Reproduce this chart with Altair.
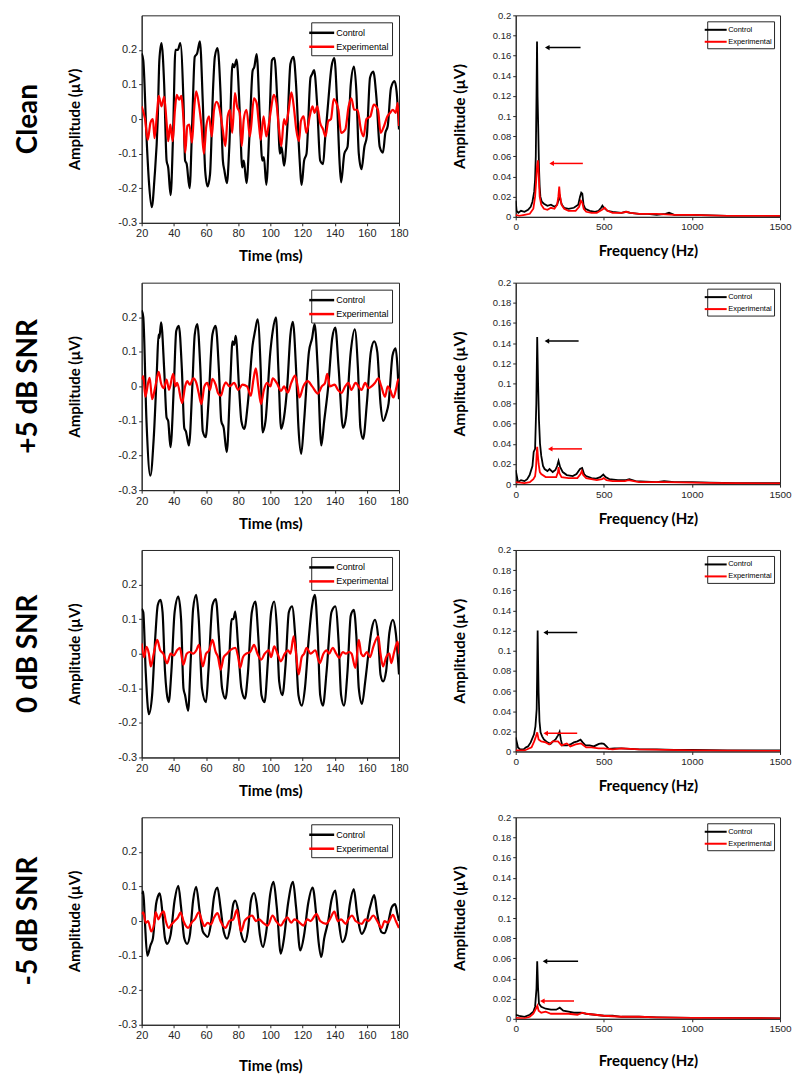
import altair as alt
import pandas as pd

ROW_LABELS = ["Clean", "+5 dB SNR", "0 dB SNR", "-5 dB SNR"]
SERIES = ["Control", "Experimental"]
COLORS = ["#000000", "#ff0000"]
TIME_TICKS = [20, 40, 60, 80, 100, 120, 140, 160, 180]
TIME_AMP_TICKS = [-0.3, -0.2, -0.1, 0, 0.1, 0.2]
FREQ_TICKS = [0, 500, 1000, 1500]
FREQ_AMP_TICKS = [0, 0.02, 0.04, 0.06, 0.08, 0.1, 0.12, 0.14, 0.16, 0.18, 0.2]

# ---------------- time-domain waveforms (ms, µV) ----------------
clean_time_control = [
    (20, 0.19), (21, 0.17), (23, -0.05), (24.5, -0.18), (26.3, -0.255), (28, -0.17), (30, 0.0), (31, 0.17),
    (32.3, 0.22), (34, 0.1), (35.5, -0.12), (36.5, -0.14), (38, -0.22), (39.5, -0.05), (41, 0.2), (42.5, 0.2),
    (44, 0.22), (46, 0.05), (47, -0.12), (48, -0.13), (49.8, -0.2), (51.5, 0.0), (53, 0.18), (54.5, 0.19),
    (56.2, 0.225), (58, 0.05), (59.5, -0.15), (61, -0.195), (62.5, -0.16), (64.5, 0.1), (65.5, 0.18), (67.2, 0.205),
    (69, 0.08), (70.5, -0.12), (71.5, -0.15), (73, -0.185), (74.5, -0.08), (76.5, 0.16), (77.5, 0.15), (79, 0.172),
    (81, 0.02), (82.5, -0.14), (83.5, -0.12), (85.2, -0.185), (87, -0.05), (89, 0.14), (90, 0.15), (91.5, 0.188),
    (93.5, 0.0), (95, -0.12), (96, -0.11), (97.5, -0.19), (99.5, 0.0), (101, 0.17), (102.5, 0.177), (104.5, 0.04),
    (106, -0.1), (107, -0.08), (108.5, -0.135), (110.5, -0.03), (112.5, 0.16), (114.4, 0.18), (116, 0.1), (118, -0.1),
    (119.5, -0.19), (121, -0.12), (122.5, -0.1), (125, 0.12), (126, 0.13), (127.2, 0.142), (129, 0.05), (131, -0.12),
    (132.8, -0.13), (134, -0.06), (136, 0.05), (138, 0.15), (139.8, 0.176), (141.5, 0.05), (143, -0.12), (144, -0.183),
    (146, -0.1), (148, -0.08), (150, 0.1), (152, 0.152), (153.5, 0.08), (155, -0.1), (156.7, -0.145), (158.5, -0.08),
    (160, -0.05), (162, 0.12), (164, 0.137), (166, 0.06), (168, -0.08), (170, -0.097), (171.5, -0.04), (173, -0.02),
    (175, 0.09), (177.2, 0.11), (178.5, 0.08), (180, -0.03),
]
clean_time_experimental = [
    (20, 0.037), (22.1, 0.0), (23.8, -0.06), (25.5, -0.01), (27, 0.0), (28, -0.055), (29.7, 0.027), (30.6, 0.067),
    (32.3, 0.037), (34, 0.064), (35.5, -0.01), (36.5, -0.064), (37.8, -0.016), (39.3, -0.064), (40.7, 0.027),
    (41.8, 0.07), (43.3, 0.056), (44.6, 0.067), (46, 0.0), (47.1, -0.097), (48.4, -0.02), (49.6, -0.016),
    (51.3, -0.068), (52.6, 0.027), (53.9, 0.08), (55.6, 0.042), (57.2, -0.02), (58.7, -0.1), (60.2, -0.02),
    (61.9, 0.008), (63.6, -0.05), (65, 0.027), (66.6, 0.05), (68.3, 0.032), (70.4, -0.03), (72, -0.078),
    (73.5, 0.008), (75, 0.027), (76.3, -0.04), (78, 0.075), (79.3, 0.037), (81, 0.018), (82.2, -0.078), (83.5, 0.0),
    (85.2, 0.027), (87.3, -0.05), (89.8, 0.06), (91.5, 0.046), (92.8, -0.01), (94, -0.06), (95.8, 0.008),
    (97.5, -0.05), (98.7, -0.025), (100.4, 0.027), (102.1, 0.07), (103.8, 0.046), (105.3, -0.025), (106.8, -0.078),
    (108.5, 0.0), (109.7, -0.016), (111.4, 0.027), (113.1, 0.077), (114.8, 0.027), (116.1, -0.03), (117.8, -0.064),
    (119, -0.006), (120.7, 0.008), (122.4, -0.04), (124.5, 0.008), (126.2, 0.037), (127.5, 0.018), (129.2, 0.037),
    (130.9, -0.01), (132.8, -0.03), (134.3, -0.05), (136, -0.006), (137.7, 0.0), (139.4, 0.058), (141.1, 0.046),
    (142.3, 0.027), (144, -0.04), (146.6, -0.03), (148.7, 0.037), (150.4, 0.06), (152.1, 0.027), (154.2, 0.027),
    (156.3, -0.03), (158, -0.05), (159.7, 0.0), (162.2, 0.008), (164.3, 0.042), (166.9, 0.027), (168.6, -0.04),
    (170.7, -0.02), (172.8, 0.008), (174.5, 0.018), (176.2, 0.027), (177.9, 0.018), (179.2, 0.046), (180, -0.02),
]
plus5_time_control = [
    (20, 0.22), (21, 0.2), (23, -0.1), (25.4, -0.258), (27.5, -0.15), (29.5, 0.05), (30.5, 0.15), (31, 0.14),
    (32.1, 0.185), (34, 0.05), (35.5, -0.09), (36.5, -0.1), (37.9, -0.176), (40, 0.0), (41.5, 0.16), (43.1, 0.175),
    (45, 0.05), (46.5, -0.12), (47.5, -0.13), (49.4, -0.171), (51.5, 0.0), (53, 0.15), (54.6, 0.18), (56.5, 0.05),
    (58, -0.13), (59.8, -0.147), (61.5, -0.05), (64, 0.15), (66, 0.175), (68, 0.05), (69.5, -0.1), (71, -0.12),
    (72.9, -0.19), (75, 0.0), (76.5, 0.13), (77.5, 0.12), (78.5, 0.146), (80.5, 0.0), (82, -0.1), (83.8, -0.123),
    (86, -0.05), (89, 0.12), (90.5, 0.16), (92.1, 0.194), (94, 0.05), (95.2, -0.133), (97, -0.1), (100, 0.1),
    (101.5, 0.16), (103.5, 0.2), (105, 0.05), (106.7, -0.123), (108.5, -0.09), (110.5, 0.0), (112.5, 0.15),
    (114, 0.187), (116, 0.05), (117.5, -0.12), (119.2, -0.195), (121, -0.1), (124, 0.1), (126, 0.14), (127.5, 0.18),
    (129.5, 0.05), (131.7, -0.171), (133.5, -0.1), (136, 0.0), (138.5, 0.14), (140.4, 0.17), (142.5, 0.05),
    (145.2, -0.12), (147, -0.09), (150, 0.1), (152.5, 0.165), (154.5, 0.05), (156, -0.12), (157.7, -0.152),
    (160, -0.05), (162.5, 0.1), (164.6, 0.13), (166.5, 0.1), (168.5, -0.05), (170.2, -0.1), (172, -0.08),
    (173.5, -0.05), (176, 0.09), (177.9, 0.11), (179, 0.06), (180, -0.037),
]
plus5_time_experimental = [
    (20, 0.02), (21, 0.03), (22.3, -0.03), (24, 0.01), (25, 0.025), (26.5, -0.037), (28.5, 0.0), (30.6, 0.042),
    (32, 0.01), (33.8, -0.005), (35.5, 0.02), (37, -0.01), (39.6, 0.036), (41, 0.0), (42.1, 0.01), (45.2, -0.048),
    (47, 0.0), (48.3, 0.015), (50, 0.005), (52.1, 0.023), (54, 0.01), (55.5, -0.02), (57.1, -0.051), (59, 0.0),
    (60.8, 0.01), (62.5, -0.01), (64, 0.022), (66, 0.005), (67.5, -0.02), (69.2, -0.027), (71, 0.0), (72.3, 0.012),
    (74.5, 0.0), (77.5, 0.01), (80, -0.01), (82.7, 0.005), (85.5, 0.0), (87.9, -0.027), (89.5, 0.02), (91, 0.052),
    (92.5, 0.0), (94.2, -0.051), (96, -0.01), (98, 0.01), (100, 0.0), (101.5, 0.023), (104, 0.01), (106.7, -0.013),
    (108.5, 0.0), (110.8, -0.018), (113, 0.01), (115.4, 0.031), (117, 0.0), (118.1, -0.032), (120.5, 0.0),
    (123.3, 0.015), (126, 0.0), (129.6, -0.021), (132, 0.0), (134, 0.01), (135.4, 0.036), (137, 0.0), (140, 0.005),
    (142, -0.01), (144.2, -0.019), (146.5, 0.0), (148.5, 0.01), (150.4, -0.01), (153, 0.01), (156.7, -0.01),
    (159, 0.01), (161, -0.005), (162.9, 0.0), (165, 0.01), (167.1, 0.023), (169, 0.0), (171.3, -0.03), (173, 0.0),
    (174.5, -0.01), (176.5, -0.032), (178.5, 0.0), (179.5, 0.02), (180, 0.02),
]
zero_time_control = [
    (20, 0.13), (21, 0.12), (22.5, -0.05), (24.5, -0.175), (26.5, -0.12), (28.5, 0.05), (30, 0.14), (31.7, 0.156),
    (33, 0.12), (34.5, -0.05), (35.5, -0.11), (36.8, -0.14), (38.5, -0.05), (40.5, 0.12), (42.8, 0.165), (44.5, 0.1),
    (46, -0.1), (47, -0.12), (48.9, -0.165), (50.5, -0.02), (52, 0.13), (53.9, 0.17), (55.5, 0.1), (57.5, -0.1),
    (60, -0.14), (61.5, -0.05), (64, 0.14), (66.1, 0.158), (68, 0.05), (70, -0.1), (72.1, -0.13), (74, -0.05),
    (76, 0.1), (77, 0.1), (78.2, 0.122), (80, 0.02), (82, -0.1), (84.2, -0.13), (86, -0.06), (88.5, 0.12),
    (90.7, 0.151), (92.5, 0.05), (94.5, -0.12), (96.4, -0.14), (98.5, -0.02), (100.5, 0.12), (102.4, 0.151),
    (104, 0.08), (105.5, -0.08), (107.5, -0.12), (109.5, -0.03), (111.5, 0.12), (113.5, 0.137), (115.5, 0.05),
    (117.5, -0.12), (119.6, -0.15), (121.5, -0.1), (124, 0.05), (126, 0.14), (127.7, 0.17), (129.5, 0.05),
    (131, -0.12), (132.7, -0.15), (135, -0.05), (138, 0.12), (140.4, 0.137), (142.5, 0.03), (144, -0.12),
    (145.8, -0.15), (148, -0.05), (150, 0.11), (151.9, 0.127), (153.5, 0.05), (155, -0.1), (157, -0.145),
    (159, -0.08), (161, 0.0), (163, 0.07), (165, 0.098), (167, 0.05), (168.5, -0.06), (170.1, -0.08), (172, -0.05),
    (174, 0.06), (176.2, 0.098), (178, 0.06), (180, -0.06),
]
zero_time_experimental = [
    (20, 0.03), (21.5, -0.01), (23, 0.02), (24.5, 0.0), (25.7, -0.037), (27.5, 0.0), (29.7, 0.04), (31.5, 0.01),
    (33.5, 0.0), (35.8, -0.028), (38, 0.0), (40, -0.005), (42, 0.01), (43.8, 0.017), (45.9, -0.032), (48, 0.0),
    (50, 0.005), (52, 0.0), (54, 0.01), (55.6, 0.026), (58, -0.037), (60, 0.0), (62, 0.01), (64, 0.04), (66, 0.005),
    (67.5, -0.01), (69.1, -0.046), (71, -0.01), (73, 0.0), (75, 0.01), (78.2, 0.017), (80, -0.01), (81.2, -0.041),
    (83, -0.01), (85, 0.0), (87.5, 0.005), (89.9, 0.026), (92, 0.0), (94.3, -0.017), (96.5, 0.0), (99, 0.01),
    (100.5, -0.01), (102.4, 0.021), (104.5, 0.0), (106.5, -0.022), (109, 0.0), (111, 0.01), (112.5, 0.0),
    (114.5, 0.05), (116, 0.0), (117.6, -0.06), (119.5, -0.01), (121, 0.0), (122.6, 0.017), (125, 0.0), (128, 0.01),
    (130.7, -0.027), (133, 0.0), (135, 0.01), (136.5, 0.0), (138.8, 0.017), (141, 0.0), (142.8, -0.012),
    (145, 0.005), (147, 0.0), (149, 0.005), (150.5, 0.0), (152.9, -0.041), (155, 0.04), (156.5, 0.0), (158, -0.007),
    (160, 0.005), (162, -0.01), (164, 0.02), (167.1, 0.05), (168.5, 0.0), (170.1, -0.037), (172, -0.01), (174, 0.0),
    (175.2, -0.027), (177, 0.005), (179.2, 0.035), (180, 0.0),
]
minus5_time_control = [
    (20, 0.078), (21, 0.085), (22, 0.0), (23.5, -0.1), (25.5, -0.07), (27, -0.05), (29, 0.05), (30, 0.07),
    (31.3, 0.08), (33, 0.02), (34.5, -0.05), (35.8, -0.066), (38, -0.04), (40.5, 0.06), (42.8, 0.102), (44.5, 0.04),
    (46.5, -0.05), (48.3, -0.066), (50, -0.04), (52, 0.06), (53.9, 0.099), (56, 0.03), (58, -0.03), (59.5, -0.04),
    (61, -0.046), (63, -0.01), (65, 0.07), (67.1, 0.097), (69, 0.04), (71, -0.03), (73.1, -0.051), (75, -0.02),
    (77, 0.05), (78.2, 0.059), (80, 0.03), (82, -0.04), (84.2, -0.061), (86, -0.03), (88, 0.06), (89.9, 0.081),
    (91.5, 0.05), (93.5, -0.04), (95.4, -0.075), (97.5, -0.03), (100, 0.08), (102, 0.113), (104, 0.04),
    (106.5, -0.094), (108.5, -0.05), (111, 0.05), (114.1, 0.113), (116, 0.04), (118.6, -0.085), (121, -0.04),
    (123.5, 0.05), (126.3, 0.097), (128.5, 0.02), (130, -0.06), (131.7, -0.104), (133.5, -0.05), (136, 0.0),
    (138, 0.06), (140.4, 0.088), (142.5, 0.0), (144.8, -0.061), (147, -0.04), (149.5, 0.05), (151.9, 0.092),
    (154, 0.02), (156.9, -0.037), (159, -0.02), (162, 0.04), (164.6, 0.075), (166.5, 0.02), (169.1, -0.032),
    (171, -0.035), (173, -0.01), (175.5, 0.04), (177.6, 0.049), (179, 0.02), (180, 0.0),
]
minus5_time_experimental = [
    (20, 0.02), (21, 0.025), (22.5, -0.005), (24, 0.0), (26, -0.03), (28, 0.0), (28.7, 0.025), (30.5, 0.005),
    (32, 0.02), (33.7, 0.028), (35, 0.0), (36.8, -0.02), (38.5, -0.01), (40.5, 0.0), (42.5, 0.01), (44.2, 0.025),
    (46, 0.0), (48.9, -0.02), (51, -0.005), (53, 0.005), (55.6, 0.025), (57.5, 0.0), (59, -0.015), (61, -0.005),
    (63, -0.01), (65, 0.01), (67.1, 0.023), (69, 0.0), (72.1, -0.02), (74.5, 0.0), (77, 0.005), (79.2, 0.032),
    (80.5, 0.0), (81.8, -0.03), (84, 0.0), (86, 0.01), (88.7, 0.016), (91, 0.0), (93, 0.005), (95.5, -0.005),
    (98.4, -0.013), (101.4, 0.016), (103.5, 0.0), (106.5, -0.013), (108.5, 0.0), (110.5, 0.011), (113, -0.005),
    (115, 0.005), (117, 0.0), (120.6, -0.013), (123, 0.005), (125, 0.0), (128.7, 0.02), (131, 0.0), (134.7, -0.008),
    (137, 0.005), (139.8, 0.027), (142, 0.0), (144, 0.005), (146.9, -0.008), (148.5, 0.005), (150.9, 0.016),
    (153, 0.0), (157, -0.008), (159, 0.005), (161, 0.0), (164, 0.016), (166.5, 0.0), (169.1, -0.02), (171, 0.0),
    (173, -0.005), (176.2, 0.018), (178, 0.0), (180, -0.02),
]

# ---------------- spectra (Hz, µV) ----------------
clean_freq_control = [
    (0, 0.016), (5, 0.006), (15, 0.004), (30, 0.006), (50, 0.005), (70, 0.007), (85, 0.01), (95, 0.015),
    (105, 0.025), (110, 0.037), (114, 0.06), (118, 0.12), (121, 0.174), (124, 0.12), (128, 0.087), (132, 0.05),
    (136, 0.03), (140, 0.02), (148, 0.015), (160, 0.013), (180, 0.011), (200, 0.012), (220, 0.01), (235, 0.012),
    (245, 0.018), (250, 0.022), (255, 0.016), (262, 0.012), (275, 0.009), (300, 0.008), (330, 0.009), (355, 0.012),
    (365, 0.02), (372, 0.024), (378, 0.023), (385, 0.012), (395, 0.008), (420, 0.006), (450, 0.005), (470, 0.006),
    (485, 0.009), (492, 0.011), (500, 0.009), (520, 0.006), (550, 0.005), (600, 0.004), (625, 0.005), (650, 0.004),
    (700, 0.003), (750, 0.003), (800, 0.002), (850, 0.003), (870, 0.004), (900, 0.002), (950, 0.002), (1000, 0.002),
    (1100, 0.0015), (1200, 0.001), (1300, 0.001), (1400, 0.001), (1500, 0.0008),
]
clean_freq_experimental = [
    (0, 0.002), (20, 0.001), (50, 0.002), (80, 0.003), (100, 0.008), (110, 0.02), (116, 0.035), (121, 0.05),
    (126, 0.056), (131, 0.04), (136, 0.02), (145, 0.012), (160, 0.008), (180, 0.007), (200, 0.009), (220, 0.008),
    (235, 0.012), (242, 0.02), (247, 0.03), (252, 0.02), (260, 0.012), (275, 0.008), (300, 0.006), (340, 0.006),
    (360, 0.01), (370, 0.016), (378, 0.014), (386, 0.008), (400, 0.005), (430, 0.004), (460, 0.004), (490, 0.007),
    (505, 0.009), (520, 0.006), (550, 0.004), (600, 0.004), (630, 0.005), (650, 0.004), (700, 0.003), (800, 0.003),
    (900, 0.002), (1000, 0.002), (1200, 0.001), (1500, 0.001),
]
plus5_freq_control = [
    (0, 0.014), (13, 0.002), (30, 0.004), (50, 0.003), (65, 0.005), (79, 0.009), (95, 0.018), (102, 0.032),
    (110, 0.035), (117, 0.08), (122, 0.146), (127, 0.1), (132, 0.064), (138, 0.04), (145, 0.028), (155, 0.018),
    (164, 0.015), (180, 0.013), (192, 0.015), (210, 0.012), (225, 0.014), (235, 0.018), (243, 0.023), (252, 0.017),
    (267, 0.012), (290, 0.009), (324, 0.008), (345, 0.01), (365, 0.015), (377, 0.016), (388, 0.01), (399, 0.008),
    (430, 0.006), (456, 0.0055), (480, 0.007), (497, 0.0095), (510, 0.007), (531, 0.005), (580, 0.004),
    (625, 0.004), (645, 0.005), (680, 0.003), (738, 0.0025), (800, 0.002), (842, 0.003), (900, 0.002),
    (1000, 0.002), (1100, 0.0015), (1250, 0.001), (1400, 0.001), (1500, 0.001),
]
plus5_freq_experimental = [
    (0, 0.002), (50, 0.001), (80, 0.002), (100, 0.005), (110, 0.008), (115, 0.015), (119, 0.03), (122, 0.037),
    (126, 0.028), (130, 0.02), (137, 0.012), (145, 0.01), (170, 0.007), (200, 0.007), (230, 0.007), (240, 0.012),
    (243, 0.017), (248, 0.011), (260, 0.007), (300, 0.006), (350, 0.006), (368, 0.01), (375, 0.013), (383, 0.009),
    (400, 0.006), (460, 0.004), (490, 0.005), (500, 0.006), (515, 0.004), (550, 0.003), (620, 0.003), (640, 0.004),
    (700, 0.002), (850, 0.002), (1000, 0.0015), (1200, 0.001), (1500, 0.0008),
]
zero_freq_control = [
    (0, 0.014), (13, 0.004), (25, 0.002), (45, 0.002), (57, 0.004), (70, 0.005), (85, 0.009), (104, 0.017),
    (112, 0.025), (119, 0.042), (122, 0.08), (124.5, 0.12), (127, 0.09), (130, 0.058), (135, 0.03), (141, 0.019),
    (150, 0.015), (160, 0.012), (180, 0.009), (198, 0.0075), (212, 0.01), (226, 0.012), (240, 0.016), (249, 0.0195),
    (256, 0.012), (264, 0.006), (292, 0.006), (310, 0.007), (330, 0.009), (350, 0.01), (368, 0.0117), (380, 0.009),
    (396, 0.006), (420, 0.006), (443, 0.005), (472, 0.0075), (488, 0.008), (500, 0.0075), (515, 0.005),
    (528, 0.0026), (560, 0.003), (600, 0.003), (650, 0.0025), (700, 0.002), (800, 0.002), (900, 0.0015),
    (1000, 0.0015), (1200, 0.001), (1500, 0.001),
]
zero_freq_experimental = [
    (0, 0.001), (50, 0.001), (90, 0.004), (105, 0.01), (115, 0.015), (122, 0.019), (130, 0.012), (145, 0.01),
    (170, 0.009), (190, 0.007), (210, 0.01), (240, 0.01), (260, 0.006), (290, 0.008), (310, 0.005), (340, 0.007),
    (370, 0.008), (400, 0.004), (430, 0.004), (470, 0.003), (500, 0.003), (550, 0.002), (600, 0.003), (700, 0.002),
    (1000, 0.001), (1500, 0.0005),
]
minus5_freq_control = [
    (0, 0.004), (20, 0.003), (50, 0.002), (80, 0.004), (100, 0.007), (110, 0.012), (118, 0.03), (122, 0.057),
    (127, 0.03), (132, 0.015), (145, 0.012), (170, 0.01), (200, 0.009), (230, 0.009), (250, 0.011), (270, 0.008),
    (300, 0.007), (330, 0.006), (370, 0.006), (400, 0.005), (450, 0.004), (500, 0.003), (550, 0.003), (600, 0.002),
    (700, 0.002), (800, 0.0015), (1000, 0.001), (1200, 0.001), (1500, 0.0005),
]
minus5_freq_experimental = [
    (0, 0.001), (50, 0.0005), (80, 0.002), (100, 0.005), (115, 0.01), (123, 0.013), (130, 0.008), (145, 0.006),
    (170, 0.007), (200, 0.005), (250, 0.005), (300, 0.005), (350, 0.004), (380, 0.006), (400, 0.005), (450, 0.004),
    (500, 0.003), (600, 0.002), (700, 0.002), (800, 0.0015), (1000, 0.001), (1500, 0.0005),
]

# ---------------- arrows in the spectra ----------------
ARROW_ROW = [0, 0, 1, 1, 2, 2, 3, 3]
ARROW_SERIES = ["Control", "Experimental"] * 4
ARROW_F_START = [179, 204, 177, 196, 170, 170, 166, 151]
ARROW_F_END = [368, 381, 357, 376, 349, 349, 354, 331]
ARROW_AMP = [0.168, 0.053, 0.142, 0.035, 0.118, 0.018, 0.057, 0.0176]

TIME_DATA = [
    (clean_time_control, clean_time_experimental),
    (plus5_time_control, plus5_time_experimental),
    (zero_time_control, zero_time_experimental),
    (minus5_time_control, minus5_time_experimental),
]
FREQ_DATA = [
    (clean_freq_control, clean_freq_experimental),
    (plus5_freq_control, plus5_freq_experimental),
    (zero_freq_control, zero_freq_experimental),
    (minus5_freq_control, minus5_freq_experimental),
]

TICK_FONT = "Liberation Sans"
TITLE_FONT = "Lato"
INK = "#262626"
LEGEND_LINE = "M-2,0L2,0"
X_TITLE_PAD = [10, 10, 10, 18]
F_TITLE_PAD = [12, 12, 12, 20]


def frame(pairs_ctrl, pairs_exp, xname, yname):
    rows = [(a, b, SERIES[0]) for a, b in pairs_ctrl] + [(a, b, SERIES[1]) for a, b in pairs_exp]
    return pd.DataFrame(rows, columns=[xname, yname, "series"])


def color_enc(legend):
    return alt.Color("series:N", scale=alt.Scale(domain=SERIES, range=COLORS), legend=legend)


def time_panel(i):
    ctrl, exp = TIME_DATA[i]
    df = frame(ctrl, exp, "t", "v")
    legend = alt.Legend(
        title=None, orient="top-right", offset=7, fillColor="white", strokeColor=INK, padding=3,
        symbolType=LEGEND_LINE, symbolSize=156, symbolStrokeWidth=2.5, labelFontSize=9, labelFont=TICK_FONT,
        labelColor="black", rowPadding=1, labelOffset=7, cornerRadius=0,
    )
    return alt.Chart(df).mark_line(strokeWidth=2.2, clip=True, interpolate="monotone").encode(
        x=alt.X("t:Q", scale=alt.Scale(domain=[20, 180], nice=False, zero=False),
                axis=alt.Axis(values=TIME_TICKS, format="d", title="Time (ms)", titlePadding=X_TITLE_PAD[i],
                              titleFontSize=15, labelFontSize=11)),
        y=alt.Y("v:Q", scale=alt.Scale(domain=[-0.3, 0.3], nice=False, zero=False),
                axis=alt.Axis(values=TIME_AMP_TICKS, labelExpr="toString(round(datum.value*10)/10)",
                              title="Amplitude (µV)", titlePadding=35, titleFontSize=15, labelFontSize=11,
                              labelOverlap=False)),
        color=color_enc(legend),
    ).properties(
        width=258, height=208,
        title=alt.TitleParams(text=ROW_LABELS[i], orient="left", anchor="middle", font=TITLE_FONT,
                              fontSize=28, fontWeight="bold", color="black", offset=25),
    )


def freq_panel(i):
    ctrl, exp = FREQ_DATA[i]
    df = frame(ctrl, exp, "f", "a")
    legend = alt.Legend(
        title=None, orient="top-right", offset=6, fillColor="white", strokeColor=INK, padding=2,
        symbolType=LEGEND_LINE, symbolSize=121, symbolStrokeWidth=2, labelFontSize=7.5, labelFont=TICK_FONT,
        labelColor="black", rowPadding=1, labelOffset=6, cornerRadius=0,
    )
    xs = alt.Scale(domain=[0, 1500], nice=False, zero=False)
    ys = alt.Scale(domain=[0, 0.2], nice=False, zero=False)
    fx_axis = alt.Axis(values=FREQ_TICKS, format="d", title="Frequency (Hz)", titlePadding=F_TITLE_PAD[i],
                       titleFontSize=15, labelFontSize=10)
    fy_axis = alt.Axis(values=FREQ_AMP_TICKS, labelExpr="toString(round(datum.value*100)/100)",
                       title="Amplitude (µV)", titlePadding=25, titleFontSize=15.5, labelFontSize=9.5,
                       labelOverlap=False)
    lines = alt.Chart(df).mark_line(strokeWidth=1.8, clip=True).encode(
        x=alt.X("f:Q", scale=xs, axis=fx_axis),
        y=alt.Y("a:Q", scale=ys, axis=fy_axis),
        color=color_enc(legend),
    )
    adf = pd.DataFrame({
        "row": ARROW_ROW, "series": ARROW_SERIES, "f0": ARROW_F_START, "f1": ARROW_F_END, "a": ARROW_AMP,
    })
    adf = adf[adf["row"] == i]
    shaft = alt.Chart(adf).mark_rule(strokeWidth=1.5).encode(
        x=alt.X("f0:Q", scale=xs, axis=fx_axis), x2="f1:Q", y=alt.Y("a:Q", scale=ys, axis=fy_axis),
        color=color_enc(None),
    )
    head = alt.Chart(adf).mark_point(shape="triangle-left", filled=True, size=28, opacity=1).encode(
        x=alt.X("f0:Q", scale=xs, axis=fx_axis), y=alt.Y("a:Q", scale=ys, axis=fy_axis), color=color_enc(None),
    )
    return alt.layer(lines, shaft, head).properties(width=265, height=202)


panels = []
for i in range(4):
    panels.append(time_panel(i))
    panels.append(freq_panel(i))

chart = alt.concat(*panels, columns=2, spacing={"row": 60, "column": 117}).properties(
    bounds="flush", align="each",
    padding={"top": 0, "left": 6, "right": 0, "bottom": 0},
).resolve_scale(color="independent").resolve_legend(color="independent").configure_view(
    stroke=INK, strokeWidth=1
).configure_axis(
    grid=False, domainColor=INK, tickColor=INK, labelColor=INK, labelFont=TICK_FONT, titleFont=TITLE_FONT,
    titleFontWeight="bold", titleColor="black", labelFlush=False, tickSize=3, labelPadding=2,
)

chart.save("out.html", embed_options={"renderer": "svg", "actions": False})
